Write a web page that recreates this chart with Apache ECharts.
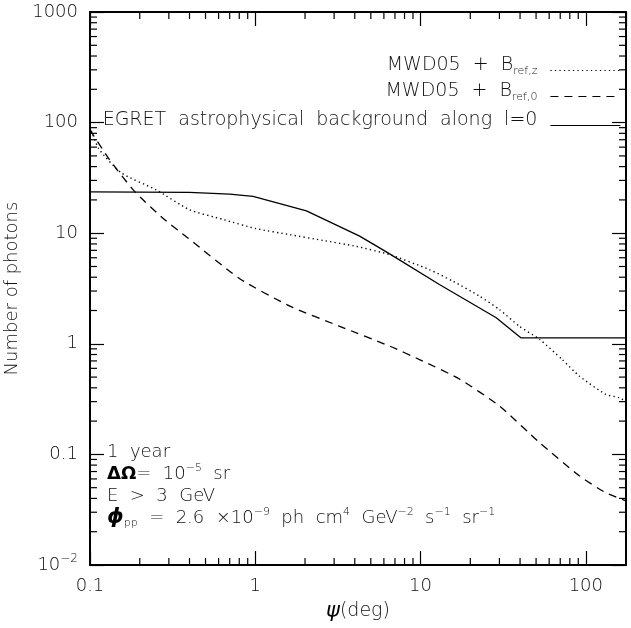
<!DOCTYPE html>
<html>
<head>
<meta charset="utf-8">
<script src="https://cdn.jsdelivr.net/npm/echarts@6/dist/echarts.min.js"></script>
<style>
  html, body { margin: 0; padding: 0; background: #fff; }
  #chart { width: 631px; height: 628px; }
</style>
</head>
<body>
<div id="chart"></div>
<script>
// psi (deg) and photon counts
const egretPsi = [0.1, 0.40, 0.7, 0.97, 2.04, 4.28, 5.65, 6.5, 13.0, 28.7, 40.6, 175];
const egretN   = [23.6, 23.4, 22.6, 21.5, 15.9, 9.4, 7.37, 6.5, 3.44, 1.72, 1.13, 1.13];

const refzPsi = [0.1, 0.113, 0.155, 0.251, 0.40, 0.64, 1.01, 1.62, 2.57, 4.09, 6.5, 11.3, 15.7, 22.7, 30, 39.6, 52.4, 72, 91.4, 132, 159, 175];
const refzN   = [92, 58, 35, 24.7, 16.3, 13.3, 11.0, 9.7, 8.6, 7.6, 6.4, 4.69, 3.68, 2.70, 2.04, 1.44, 1.10, 0.72, 0.51, 0.349, 0.326, 0.30];

const ref0Psi = [0.1, 0.1315, 0.186, 0.282, 0.391, 0.805, 1.62, 3.24, 6.5, 9.86, 17.2, 30, 52.4, 91.4, 132, 175];
const ref0N   = [86, 46, 23.9, 13.3, 9.06, 3.88, 2.19, 1.44, 0.953, 0.72, 0.48, 0.274, 0.128, 0.064, 0.045, 0.038];

const xRange = [0.1, 175];
const yRange = [0.01, 1000];
const xDecades = [0.1, 1, 10, 100];
const yDecades = [0.01, 0.1, 1, 10, 100];
const xTickLabels = { '-1': '0.1', '0': '1', '1': '10', '2': '100' };
const yTickLabels = { '-2': '10{sup|−2}', '-1': '0.1', '0': '1', '1': '10', '2': '100', '3': '1000' };

const FONT = 'DejaVu Sans';
const WEIGHT = 200;
const INK = '#000';
const TXT = '#111';

function pairs(xs, ys) {
    return xs.map(function (x, i) { return [x, ys[i]]; });
}

function minorValues(decades, limit) {
    const out = [];
    decades.forEach(function (d) {
        for (let m = 2; m <= 9; m++) {
            if (m * d < limit) out.push(+(m * d).toPrecision(3));
        }
    });
    return out;
}

function decadeLabel(map) {
    return function (v) {
        const l = Math.log10(v);
        const e = Math.round(l);
        if (Math.abs(l - e) > 0.01) return '';
        return map[String(e)] || '';
    };
}

const chart = echarts.init(document.getElementById('chart'));

const axisLine = { show: true, onZero: false, lineStyle: { color: INK, width: 2 } };
const majorTick = { show: true, inside: true, length: 14, lineStyle: { color: INK, width: 1.2 } };
const labelFont = { fontFamily: FONT, fontWeight: WEIGHT, fontSize: 18, color: TXT };

const options = {
    animation: false,
    backgroundColor: '#fff',
    grid: { left: 90, right: 5, top: 12, bottom: 63, outerBoundsMode: 'none' },
    xAxis: [{
        type: 'log', logBase: 10, min: xRange[0], max: xRange[1],
        position: 'bottom',
        axisLine: axisLine, axisTick: majorTick, splitLine: { show: false },
        axisLabel: Object.assign({ margin: 12, formatter: decadeLabel(xTickLabels), showMaxLabel: false }, labelFont),
        name: '{psi|ψ}(deg)', nameLocation: 'middle', nameGap: 36,
        nameTextStyle: {
            fontFamily: FONT, fontWeight: WEIGHT, fontSize: 19, color: TXT,
            rich: { psi: { fontFamily: FONT, fontSize: 21, fontStyle: 'italic', color: '#000' } }
        }
    }, {
        type: 'log', logBase: 10, min: xRange[0], max: xRange[1],
        position: 'top',
        axisLine: axisLine, axisTick: majorTick, splitLine: { show: false },
        axisLabel: { show: false }
    }],
    yAxis: [{
        type: 'log', logBase: 10, min: yRange[0], max: yRange[1],
        position: 'left',
        axisLine: axisLine, axisTick: majorTick, splitLine: { show: false },
        axisLabel: Object.assign({
            margin: 12, formatter: decadeLabel(yTickLabels),
            rich: { sup: { fontFamily: FONT, fontWeight: WEIGHT, fontSize: 12, color: TXT, padding: [0, 0, 12, 0] } }
        }, labelFont),
        name: 'Number of photons', nameLocation: 'middle', nameGap: 68, nameRotate: 90,
        nameTextStyle: { fontFamily: FONT, fontWeight: WEIGHT, fontSize: 18, color: TXT }
    }, {
        type: 'log', logBase: 10, min: yRange[0], max: yRange[1],
        position: 'right',
        axisLine: axisLine, axisTick: majorTick, splitLine: { show: false },
        axisLabel: { show: false }
    }],
    legend: ['refz', 'ref0', 'egret'].map(function (name, i) {
        return {
            data: [name],
            right: 5,
            top: [51, 77, 106][i],
            orient: 'vertical',
            align: 'right',
            itemWidth: 70,
            itemHeight: 12,
            selectedMode: false,
            itemStyle: { opacity: 0 },
            lineStyle: { width: 1.2 },
            formatter: function (n) {
                if (n === 'refz') return 'MWD05  +  B{sub|ref,z}';
                if (n === 'ref0') return 'MWD05  +  B{sub|ref,0}';
                return 'EGRET  astrophysical  background  along  l=0';
            },
            textStyle: {
                fontFamily: FONT, fontWeight: WEIGHT, fontSize: 19, color: TXT, padding: [0, 8, 10, 0],
                rich: { sub: { fontFamily: FONT, fontSize: 11, color: TXT, padding: [12, 0, 0, 0] } }
            }
        };
    }),
    graphic: [{
        type: 'text',
        left: 107,
        top: 441,
        style: {
            text: [
                '1  year',
                '{b|ΔΩ}=  10{sup|−5}  sr',
                'E  >  3  GeV',
                '{phi|ϕ}{sub|pp}  =  2.6  ×10{sup|−9}  ph  cm{sup|4}  GeV{sup|−2}  s{sup|−1}  sr{sup|−1}'
            ].join('\n'),
            font: WEIGHT + ' 18px "DejaVu Sans"',
            fill: TXT,
            lineHeight: 22,
            rich: {
                b: { fontFamily: FONT, fontSize: 18, fontWeight: 'bold', fill: '#000', lineHeight: 22 },
                sup: { fontFamily: FONT, fontWeight: WEIGHT, fontSize: 11, fill: TXT, padding: [0, 0, 12, 0], lineHeight: 22 },
                sub: { fontFamily: FONT, fontWeight: WEIGHT, fontSize: 11, fill: TXT, padding: [10, 0, 0, 0], lineHeight: 22 },
                phi: { fontFamily: FONT, fontSize: 21, fontStyle: 'italic', fontWeight: 'bold', fill: '#000', lineHeight: 22 }
            }
        }
    }],
    series: [{
        name: 'refz', type: 'line', data: pairs(refzPsi, refzN),
        showSymbol: false, symbol: 'none', smooth: 0.2,
        lineStyle: { color: INK, width: 1.4, type: [1.3, 3.2] },
        itemStyle: { color: INK }
    }, {
        name: 'ref0', type: 'line', data: pairs(ref0Psi, ref0N),
        showSymbol: false, symbol: 'none', smooth: 0.2,
        lineStyle: { color: INK, width: 1.3, type: [8, 6] },
        itemStyle: { color: INK }
    }, {
        name: 'egret', type: 'line', data: pairs(egretPsi, egretN),
        showSymbol: false, symbol: 'none', smooth: false,
        lineStyle: { color: INK, width: 1.3, type: 'solid' },
        itemStyle: { color: INK }
    }, {
        // minor ticks on bottom and top axes
        type: 'custom', silent: true,
        data: minorValues(xDecades, xRange[1]).map(function (v) { return [v, yRange[0]]; }),
        renderItem: function (params, api) {
            const x = api.value(0);
            const b = api.coord([x, yRange[0]]);
            const t = api.coord([x, yRange[1]]);
            const st = { stroke: INK, lineWidth: 1.2 };
            return { type: 'group', children: [
                { type: 'line', shape: { x1: b[0], y1: b[1], x2: b[0], y2: b[1] - 7 }, style: st },
                { type: 'line', shape: { x1: t[0], y1: t[1], x2: t[0], y2: t[1] + 7 }, style: st }
            ] };
        }
    }, {
        // minor ticks on left and right axes
        type: 'custom', silent: true,
        data: minorValues(yDecades, yRange[1]).map(function (v) { return [xRange[0], v]; }),
        renderItem: function (params, api) {
            const y = api.value(1);
            const l = api.coord([xRange[0], y]);
            const r = api.coord([xRange[1], y]);
            const st = { stroke: INK, lineWidth: 1.2 };
            return { type: 'group', children: [
                { type: 'line', shape: { x1: l[0], y1: l[1], x2: l[0] + 7, y2: l[1] }, style: st },
                { type: 'line', shape: { x1: r[0], y1: r[1], x2: r[0] - 7, y2: r[1] }, style: st }
            ] };
        }
    }]
};

chart.setOption(options);
</script>
</body>
</html>
